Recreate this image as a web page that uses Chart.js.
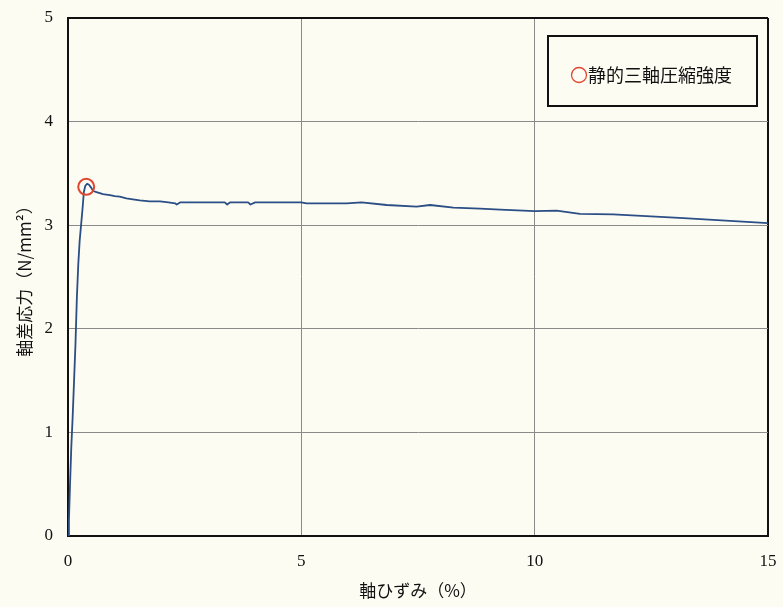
<!DOCTYPE html>
<html>
<head>
<meta charset="utf-8">
<script src="https://cdn.jsdelivr.net/npm/chart.js@4"></script>
<style>
  html, body { margin: 0; padding: 0; background: #fdfcf3; }
  #wrap { width: 783px; height: 607px; }
</style>
</head>
<body>
<div id="wrap"><canvas id="c" width="783" height="607"></canvas></div>
<script>
const strain = [0, 0.02, 0.04, 0.07, 0.10, 0.13, 0.16, 0.19, 0.22, 0.25, 0.28, 0.31, 0.34, 0.37, 0.41, 0.45, 0.50, 0.54, 0.61, 0.68, 0.75, 0.82, 0.90, 1.00, 1.11, 1.25, 1.39, 1.54, 1.75, 1.97, 2.15, 2.30, 2.33, 2.40, 2.80, 3.36, 3.41, 3.47, 3.86, 3.91, 4.01, 5.00, 5.11, 5.97, 6.29, 6.83, 7.47, 7.76, 8.26, 8.83, 9.26, 10.00, 10.47, 10.97, 11.68, 13.10, 15.00];
const stress = [0, 0.15, 0.45, 0.85, 1.15, 1.50, 1.85, 2.30, 2.62, 2.85, 3.00, 3.15, 3.32, 3.38, 3.40, 3.39, 3.36, 3.33, 3.32, 3.31, 3.30, 3.295, 3.29, 3.28, 3.275, 3.26, 3.25, 3.24, 3.23, 3.23, 3.22, 3.21, 3.20, 3.22, 3.22, 3.22, 3.20, 3.22, 3.22, 3.20, 3.22, 3.22, 3.21, 3.21, 3.22, 3.195, 3.18, 3.195, 3.17, 3.16, 3.15, 3.135, 3.14, 3.11, 3.105, 3.07, 3.02];
const peakStrain = [0.39];
const peakStress = [3.37];
const xTicks = [0, 5, 10, 15];
const yTicks = [0, 1, 2, 3, 4, 5];
const legendLabel = '静的三軸圧縮強度';
const xTitle = '軸ひずみ（%）';
const yTitle = '軸差応力（N/mm²）';

const bgPlugin = {
  id: 'bg',
  beforeDraw(chart) {
    const ctx = chart.ctx;
    ctx.save();
    ctx.fillStyle = '#fdfcf3';
    ctx.fillRect(0, 0, chart.width, chart.height);
    ctx.restore();
  }
};

const legendBox = {
  id: 'legendBox',
  afterDraw(chart) {
    const ctx = chart.ctx;
    ctx.save();
    ctx.strokeStyle = '#111';
    ctx.lineWidth = 2;
    ctx.strokeRect(548, 36, 209, 70);
    ctx.beginPath();
    ctx.arc(579, 75, 7.5, 0, Math.PI * 2);
    ctx.strokeStyle = '#e0452f';
    ctx.lineWidth = 1.3;
    ctx.stroke();
    ctx.fillStyle = '#111';
    ctx.font = '18px "Noto Sans CJK JP"';
    ctx.textBaseline = 'middle';
    ctx.fillText(legendLabel, 588, 75);
    ctx.restore();
  }
};

const gridColor = (ctx) => (ctx.tick && (ctx.tick.value === 5 && ctx.scale.axis === 'y' || ctx.tick.value === 15 && ctx.scale.axis === 'x')) ? '#111' : '#8a8a8a';
const gridWidth = (ctx) => (ctx.tick && (ctx.tick.value === 5 && ctx.scale.axis === 'y' || ctx.tick.value === 15 && ctx.scale.axis === 'x')) ? 2 : 1;

new Chart(document.getElementById('c'), {
  type: 'scatter',
  data: {
    datasets: [
      {
        label: legendLabel,
        data: peakStrain.map((x, i) => ({ x, y: peakStress[i] })),
        pointStyle: 'circle',
        pointRadius: 8,
        pointBorderWidth: 2,
        pointBorderColor: '#e0452f',
        pointBackgroundColor: 'rgba(0,0,0,0)',
        showLine: false,
        order: 0
      },
      {
        label: 'curve',
        data: strain.map((x, i) => ({ x, y: stress[i] })),
        showLine: true,
        borderColor: '#2a4e85',
        borderWidth: 1.8,
        borderJoinStyle: 'round',
        pointRadius: 0,
        tension: 0,
        order: 1
      }
    ]
  },
  options: {
    responsive: false,
    animation: false,
    devicePixelRatio: 1,
    layout: { padding: { left: 0, right: 15, top: 18, bottom: 0 } },
    plugins: { legend: { display: false }, tooltip: { enabled: false } },
    scales: {
      x: {
        type: 'linear',
        min: 0, max: 15,
        afterBuildTicks: (s) => { s.ticks = xTicks.map(v => ({ value: v })); },
        afterFit: (s) => { s.height = 71; s.paddingLeft = 0; s.paddingRight = 0; },
        ticks: { color: '#111', padding: 15, font: { family: 'Liberation Serif', size: 17 } },
        grid: { color: gridColor, lineWidth: gridWidth, drawTicks: false },
        border: { display: true, color: '#111', width: 2 },
        title: { display: true, text: xTitle, color: '#111', padding: { top: 0, bottom: 6 }, font: { family: 'Noto Sans CJK JP', size: 17 } }
      },
      y: {
        type: 'linear',
        min: 0, max: 5,
        afterBuildTicks: (s) => { s.ticks = yTicks.map(v => ({ value: v })); },
        afterFit: (s) => { s.width = 68; s.paddingTop = 0; s.paddingBottom = 0; },
        ticks: { color: '#111', padding: 15, font: { family: 'Liberation Serif', size: 17 } },
        grid: { color: gridColor, lineWidth: gridWidth, drawTicks: false },
        border: { display: true, color: '#111', width: 2 },
        title: { display: true, text: yTitle, color: '#111', padding: { top: 14, bottom: 0 }, font: { family: 'Noto Sans CJK JP', size: 17 } }
      }
    }
  },
  plugins: [bgPlugin, legendBox]
});
</script>
</body>
</html>
